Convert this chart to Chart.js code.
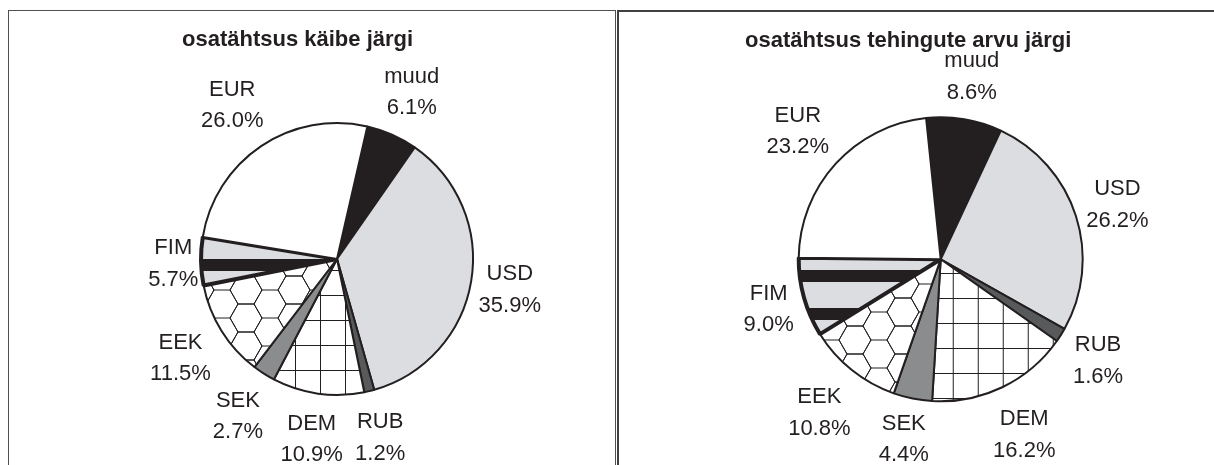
<!DOCTYPE html>
<html>
<head>
<meta charset="utf-8">
<script src="https://cdn.jsdelivr.net/npm/chart.js@4.4.1/dist/chart.umd.min.js"></script>
<style>
  body { margin: 0; background: #fff; width: 1214px; height: 465px; overflow: hidden; position: relative; }
  .box { position: absolute; box-sizing: border-box; }
  #box_kaive { left: 8px; top: 10px; width: 608px; height: 520px; border: 1px solid #505050; }
  #box_arv { left: 617px; top: 10px; width: 700px; height: 520px; border: 2px solid #404040; }
  canvas { position: absolute; top: 0; }
  #pie_kaive { left: 0; }
  #pie_arv { left: 615px; }
</style>
</head>
<body>
<div id="box_kaive" class="box"></div>
<div id="box_arv" class="box"></div>
<canvas id="pie_kaive" width="615" height="465"></canvas>
<canvas id="pie_arv" width="599" height="465"></canvas>
<script>
const valuutad = ['muud', 'USD', 'RUB', 'DEM', 'SEK', 'EEK', 'FIM', 'EUR']
const osaKaive = [6.1, 35.9, 1.2, 10.9, 2.7, 11.5, 5.7, 26.0]
const osaTehingud = [8.6, 26.2, 1.6, 16.2, 4.4, 10.8, 9.0, 23.2]

const MUST = '#231f20'
const FONT = '"Liberation Sans", Arial, sans-serif'

function tile(w, h, draw) {
  const c = document.createElement('canvas')
  c.width = w; c.height = h
  draw(c.getContext('2d'), w, h)
  return c
}

// ruudustik (DEM)
function ruudud(ox, oy) {
  const t = tile(25, 25, (g, w, h) => {
    g.fillStyle = '#fff'; g.fillRect(0, 0, w, h)
    g.fillStyle = MUST
    g.fillRect(0, 0, 1, h)
    g.fillRect(0, 0, w, 1)
  })
  const p = document.createElement('canvas').getContext('2d').createPattern(t, 'repeat')
  p.setTransform(new DOMMatrix([1, 0, 0, 1, ox, oy]))
  return p
}

// kärjed (EEK)
function karjed(ox, oy) {
  const s = 16
  const H = 28
  const t = tile(3 * s, H, (g, w, h) => {
    g.fillStyle = '#fff'; g.fillRect(0, 0, w, h)
    g.strokeStyle = MUST; g.lineWidth = 1
    const kuus = (cx, cy) => {
      g.beginPath()
      g.moveTo(cx - s, cy)
      g.lineTo(cx - s / 2, cy - h / 2)
      g.lineTo(cx + s / 2, cy - h / 2)
      g.lineTo(cx + s, cy)
      g.lineTo(cx + s / 2, cy + h / 2)
      g.lineTo(cx - s / 2, cy + h / 2)
      g.closePath()
      g.stroke()
    }
    kuus(0, 0); kuus(w, 0); kuus(0, h); kuus(w, h); kuus(w / 2, h / 2)
  })
  const p = document.createElement('canvas').getContext('2d').createPattern(t, 'repeat')
  p.setTransform(new DOMMatrix([1, 0, 0, 1, ox, oy]))
  return p
}

// triibud (FIM)
function triibud(oy) {
  const t = tile(10, 38, (g, w, h) => {
    g.fillStyle = '#dcdde0'; g.fillRect(0, 0, w, h)
    g.fillStyle = MUST; g.fillRect(0, 0, w, 12)
  })
  const p = document.createElement('canvas').getContext('2d').createPattern(t, 'repeat')
  p.setTransform(new DOMMatrix([1, 0, 0, 1, 0, oy]))
  return p
}

const sildid = {
  id: 'sildid',
  afterDatasetsDraw(chart) {
    const ctx = chart.ctx
    const meta = chart.getDatasetMeta(0)
    ctx.save()
    ctx.font = '22px ' + FONT
    ctx.fillStyle = MUST
    ctx.textAlign = 'center'
    ctx.textBaseline = 'alphabetic'
    meta.data.forEach((arc, i) => {
      const p = arc.getProps(['x', 'y', 'startAngle', 'endAngle', 'outerRadius'], true)
      const mid = (p.startAngle + p.endAngle) / 2
      const nimi = chart.data.labels[i]
      const pr = chart.data.datasets[0].data[i].toFixed(1) + '%'
      const w = Math.max(ctx.measureText(nimi).width, ctx.measureText(pr).width)
      const c = Math.cos(mid), s = Math.sin(mid)
      const d = p.outerRadius + 2 + Math.abs(c) * w / 2 + Math.abs(s) * 39
      const lx = p.x + c * d
      // silt jääb joonise sisse
      const ly = Math.min(p.y + s * d, chart.height - 28)
      ctx.fillText(nimi, lx, ly - 7.5)
      ctx.fillText(pr, lx, ly + 24)
    })
    ctx.restore()
  }
}

function teePirukas(id, pealkiri, andmed, seaded) {
  return new Chart(document.getElementById(id), {
    type: 'pie',
    data: {
      labels: valuutad,
      datasets: [{
        data: andmed,
        backgroundColor: [MUST, '#dcdde0', '#58595b', seaded.ruudud, '#8a8c8e', seaded.karjed, seaded.triibud, '#ffffff'],
        borderColor: MUST,
        borderWidth: [2, 2, 2, 2, 2, 2, 4, 2]
      }]
    },
    options: {
      responsive: false,
      animation: false,
      rotation: seaded.rotation,
      radius: seaded.raadius,
      layout: { padding: seaded.padding },
      plugins: {
        legend: { display: false },
        tooltip: { enabled: false },
        title: {
          display: true,
          text: pealkiri,
          align: 'start',
          color: MUST,
          font: { family: FONT, size: 22, weight: 'bold', lineHeight: 1.2 },
          padding: { top: 10, bottom: 10 }
        }
      }
    },
    plugins: [sildid]
  })
}

teePirukas('pie_kaive', 'osatähtsus käibe järgi', osaKaive, {
  rotation: 12.9,
  raadius: 136,
  padding: { left: 182, right: 123, top: 17, bottom: 10.4 },
  ruudud: ruudud(20, 20),
  karjed: karjed(6, 10),
  triibud: triibud(31)
})

teePirukas('pie_arv', 'osatähtsus tehingute arvu järgi', osaTehingud, {
  rotation: -5.9,
  raadius: 142,
  padding: { left: 130, right: 77.6, top: 18, bottom: 10.8 },
  ruudud: ruudud(12.7, 23),
  karjed: karjed(0, 4),
  triibud: triibud(4)
})
</script>
</body>
</html>
